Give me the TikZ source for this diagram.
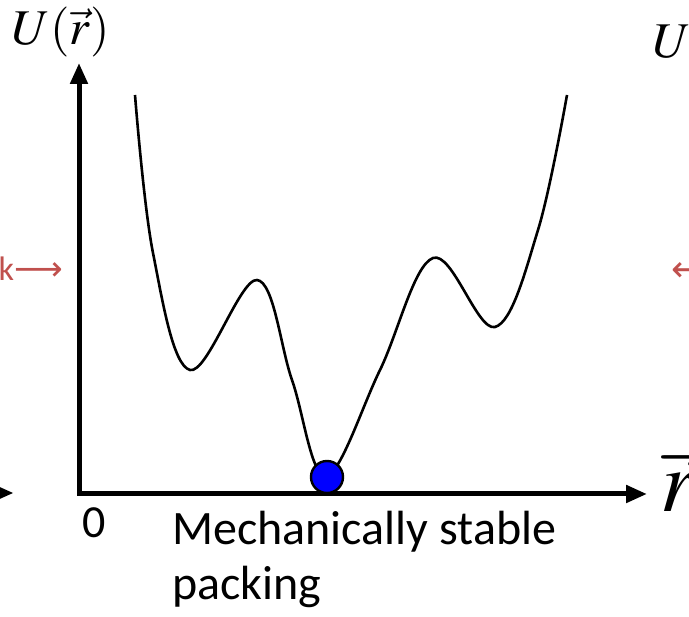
\documentclass[tikz,border=0pt]{standalone}
\usepackage{mathptmx}
\usepackage{fontspec}
\setmainfont{Carlito}
\newfontfamily\arrowfont{DejaVu Sans}
\usetikzlibrary{arrows.meta}
\definecolor{peakred}{RGB}{192,80,77}
\definecolor{ballblue}{RGB}{0,0,255}

\begin{document}
\begin{tikzpicture}[x=1pt, y=-1pt]

    \useasboundingbox (0,0) rectangle (689,617);
    \clip (0,0) rectangle (689,617);

    % axes
    \coordinate (origin) at (79,494);
    \coordinate (utop) at (79,63);
    \coordinate (rend) at (647,494);
    \draw[line width=5pt, line join=miter, {Triangle[width=17pt,length=21pt]}-{Triangle[width=17pt,length=21pt]}] (utop) -- (origin) -- (rend);
    \node[anchor=base west, inner sep=0pt, font=\fontsize{50}{50}\selectfont] (ulabel) at (12,45) {$U(\vec{r})$};
    \node[anchor=base west, inner sep=0pt, font=\fontsize{88}{88}\selectfont] (rlabel) at (660,512) {$\vec{r}$};
    \node[anchor=base west, inner sep=0pt, font=\fontsize{46}{46}\selectfont] (zero) at (82,538) {0};

    % potential landscape
    \draw[line width=2.6pt] plot[smooth, tension=0.6] coordinates {
        (135,95) (153,253) (190,370) (257,280) (292,380) (326,476)
        (380,370) (433,258) (495,327) (538,230) (567,95)};
    \node[circle, draw, line width=2.4pt, fill=ballblue, minimum size=32pt, inner sep=0pt] (ball) at (327,477) {};

    \node[anchor=base west, inner sep=0pt, font=\fontsize{48}{48}\selectfont] (mech) at (172,545) {Mechanically stable};
    \node[anchor=base west, inner sep=0pt, font=\fontsize{48}{48}\selectfont] (packing) at (172,600) {packing};

    % cut-off pieces of the neighbouring panels
    \node[anchor=base east, inner sep=0pt, text=peakred, font=\fontsize{34}{34}\selectfont] (peakL) at (63,281) {k{\arrowfont ⟶}};
    \node[anchor=base west, inner sep=0pt, text=peakred, font=\fontsize{36}{36}\selectfont] (peakR) at (671,282) {\arrowfont ⟵};
    \node[anchor=base west, inner sep=0pt, font=\fontsize{50}{50}\selectfont] (unext) at (653,58) {$U$};
    \fill (13,493) -- (-7,484) -- (-7,502) -- cycle;

\end{tikzpicture}
\end{document}
